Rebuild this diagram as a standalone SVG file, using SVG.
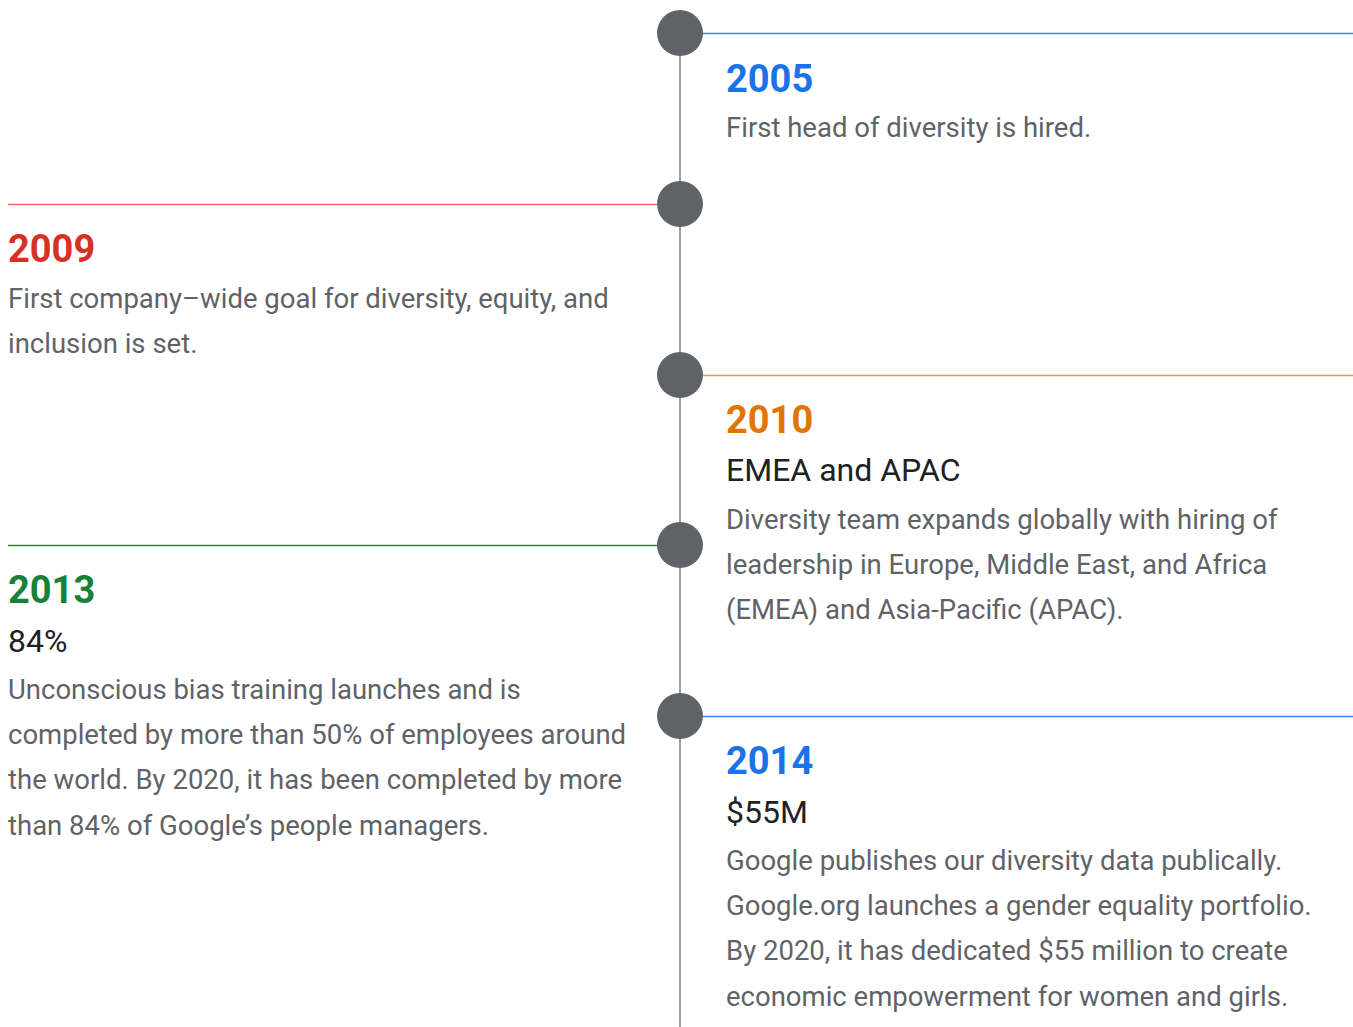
<svg xmlns="http://www.w3.org/2000/svg" width="1353" height="1027" viewBox="0 0 1353 1027">
  <style>
    .year { font-family: Roboto, "Liberation Sans", sans-serif; font-weight: 700; font-size: 38px; }
    .sub { font-family: Roboto, "Liberation Sans", sans-serif; font-weight: 400; font-size: 32px; fill: #202124; }
    .body { font-family: Roboto, "Liberation Sans", sans-serif; font-weight: 400; font-size: 27.5px; fill: #5f6368; }
    .dot { fill: #5f6368; }
    .rule { stroke-width: 1.3; fill: none; }
  </style>
  <rect width="1353" height="1027" fill="#ffffff"/>

  <!-- spine and milestone rules -->
  <g id="connectors">
    <line x1="680" y1="33" x2="680" y2="1027" stroke="#9aa0a6" stroke-width="2"/>
    <line class="rule" x1="703" y1="33.5" x2="1353" y2="33.5" stroke="#4285f4"/>
    <line class="rule" x1="8" y1="204.5" x2="657" y2="204.5" stroke="#ee675c"/>
    <line class="rule" x1="703" y1="375.5" x2="1353" y2="375.5" stroke="#fa903e"/>
    <line class="rule" x1="8" y1="545.5" x2="657" y2="545.5" stroke="#1e8e3e"/>
    <line class="rule" x1="703" y1="716.5" x2="1353" y2="716.5" stroke="#4285f4"/>
  </g>

  <g id="m2005">
    <circle class="dot" cx="680" cy="33" r="23"/>
    <text class="year" x="726" y="92" fill="#1a73e8">2005</text>
    <text class="body" x="726" y="137">First head of diversity is hired.</text>
  </g>

  <g id="m2009">
    <circle class="dot" cx="680" cy="204" r="23"/>
    <text class="year" x="8" y="262" fill="#d93025">2009</text>
    <text class="body" x="8" y="308">First company–wide goal for diversity, equity, and</text>
    <text class="body" x="8" y="353">inclusion is set.</text>
  </g>

  <g id="m2010">
    <circle class="dot" cx="680" cy="375" r="23"/>
    <text class="year" x="726" y="433" fill="#e37400">2010</text>
    <text class="sub" x="726" y="481">EMEA and APAC</text>
    <text class="body" x="726" y="529">Diversity team expands globally with hiring of</text>
    <text class="body" x="726" y="574">leadership in Europe, Middle East, and Africa</text>
    <text class="body" x="726" y="619">(EMEA) and Asia-Pacific (APAC).</text>
  </g>

  <g id="m2013">
    <circle class="dot" cx="680" cy="545" r="23"/>
    <text class="year" x="8" y="603" fill="#188038">2013</text>
    <text class="sub" x="8" y="652">84%</text>
    <text class="body" x="8" y="699">Unconscious bias training launches and is</text>
    <text class="body" x="8" y="744">completed by more than 50% of employees around</text>
    <text class="body" x="8" y="789">the world. By 2020, it has been completed by more</text>
    <text class="body" x="8" y="835">than 84% of Google’s people managers.</text>
  </g>

  <g id="m2014">
    <circle class="dot" cx="680" cy="716" r="23"/>
    <text class="year" x="726" y="774" fill="#1a73e8">2014</text>
    <text class="sub" x="726" y="823">$55M</text>
    <text class="body" x="726" y="870">Google publishes our diversity data publically.</text>
    <text class="body" x="726" y="915">Google.org launches a gender equality portfolio.</text>
    <text class="body" x="726" y="960">By 2020, it has dedicated $55 million to create</text>
    <text class="body" x="726" y="1006">economic empowerment for women and girls.</text>
  </g>
</svg>
